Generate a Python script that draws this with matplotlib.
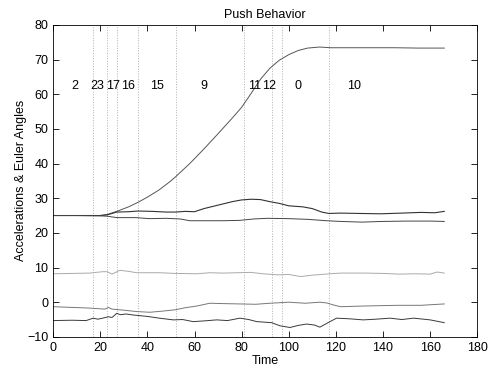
import matplotlib
matplotlib.use('Agg')
import matplotlib.pyplot as plt

plt.rcParams['font.family'] = ['Liberation Sans', 'DejaVu Sans']
plt.rcParams['font.size'] = 9

# series
a_x = [0, 10, 20, 23, 27, 32, 36, 40, 45, 50, 52, 58, 64, 70, 76, 80, 84, 88, 92, 96, 100, 104, 108, 113, 118, 125, 135, 145, 155, 166]
a_y = [25, 25, 25, 25.3, 26.2, 27.5, 28.8, 30.3, 32.4, 35, 36.2, 40.0, 44.2, 48.6, 53.1, 56.2, 60.2, 64.3, 67.5, 69.8, 71.4, 72.6, 73.3, 73.6, 73.4, 73.4, 73.4, 73.4, 73.3, 73.3]

b_x = [0, 10, 20, 23, 27, 32, 36, 42, 48, 52, 56, 60, 64, 70, 76, 80, 84, 88, 92, 96, 100, 106, 110, 114, 117, 122, 130, 139, 148, 156, 162, 166]
b_y = [25, 25, 25, 25.2, 26, 26.1, 26.3, 26.2, 26, 26, 26.2, 26.1, 27, 28, 29, 29.5, 29.7, 29.6, 29, 28.5, 27.8, 27.5, 27, 26, 25.6, 25.7, 25.6, 25.5, 25.7, 25.9, 25.8, 26.2]

c_x = [0, 10, 20, 23, 27, 35, 41, 48, 54, 58, 65, 72, 79, 85, 91, 100, 108, 116, 122, 131, 140, 150, 160, 166]
c_y = [25, 25, 24.9, 24.8, 24.4, 24.4, 24.1, 24.2, 24.0, 23.5, 23.5, 23.5, 23.6, 24.0, 24.2, 24.1, 23.9, 23.5, 23.3, 23.1, 23.3, 23.4, 23.4, 23.3]

d_x = [0, 8, 15.6, 21, 23, 25, 28.3, 32, 35.4, 45, 52, 61, 66.5, 72, 78, 84, 89, 95, 100, 105, 110, 117.5, 122, 132, 140, 147, 154, 160, 163, 166]
d_y = [8.2, 8.3, 8.4, 8.8, 8.8, 8.1, 9.2, 8.9, 8.5, 8.5, 8.3, 8.2, 8.5, 8.4, 8.5, 8.6, 8.2, 7.9, 8.0, 7.4, 7.8, 8.2, 8.4, 8.4, 8.3, 8.1, 8.2, 8.1, 8.7, 8.4]

e_x = [0, 8, 15.6, 22, 23.5, 25, 30, 35.4, 41, 46, 51.7, 56, 61, 66.5, 72, 79, 86, 92, 100, 107, 113, 116, 119, 122, 132, 146, 156, 166]
e_y = [-1.3, -1.5, -1.7, -2.0, -1.5, -2.0, -2.3, -2.7, -2.9, -2.6, -2.2, -1.6, -1.1, -0.3, -0.4, -0.5, -0.6, -0.3, 0.0, -0.3, 0.0, -0.2, -0.8, -1.3, -1.1, -0.9, -0.9, -0.5]

f_x = [0, 8, 14, 17, 19, 21, 23.4, 25, 27, 28.5, 31, 34, 40, 45, 51, 55, 59.4, 64, 69.4, 74, 79.3, 83, 86.4, 92.7, 96.3, 100.5, 104, 107.6, 111, 113.2, 117.5, 120.3, 126, 131.6, 137, 143, 148, 153, 160, 166]
f_y = [-5.3, -5.2, -5.3, -4.6, -4.9, -4.6, -4.2, -4.4, -3.2, -3.6, -3.4, -3.7, -4.1, -4.6, -5.1, -5.0, -5.6, -5.4, -5.1, -5.3, -4.6, -5.0, -5.6, -5.9, -6.8, -7.3, -6.7, -6.3, -6.6, -7.2, -5.6, -4.6, -4.8, -5.1, -4.9, -4.6, -5.0, -4.6, -5.1, -5.9]

# segment boundaries and behaviour labels
bounds = [17, 23, 27, 36, 52, 81, 93, 97, 117]
labels = ['2', '23', '17', '16', '15', '9', '11', '12', '0', '10']
label_x = [9.3, 18.6, 25.3, 32, 44, 64, 85.6, 91.6, 104, 127.6]
label_y = 62.5

fig = plt.figure(figsize=(4.92, 3.71), dpi=100)
ax = fig.add_axes([0.108, 0.092, 0.862, 0.841])

for b in bounds:
    ax.axvline(b, color='#b0b0b0', linestyle=':', linewidth=0.7)

ax.plot(a_x, a_y, color='#555555', linewidth=0.7)
ax.plot(b_x, b_y, color='#333333', linewidth=0.8)
ax.plot(c_x, c_y, color='#444444', linewidth=0.7)
ax.plot(d_x, d_y, color='#aaaaaa', linewidth=0.7)
ax.plot(e_x, e_y, color='#777777', linewidth=0.7)
ax.plot(f_x, f_y, color='#3a3a3a', linewidth=0.7)

for t, x in zip(labels, label_x):
    ax.text(x, label_y, t, ha='center', va='center', fontsize=9)

ax.set_xlim(0, 180)
ax.set_ylim(-10, 80)
ax.set_xticks(range(0, 181, 20))
ax.set_yticks(range(-10, 81, 10))
ax.tick_params(direction='in', top=True, right=True, length=4, width=0.6)
for s in ax.spines.values():
    s.set_linewidth(0.6)

ax.set_title('Push Behavior', fontsize=9, pad=5)
ax.set_xlabel('Time', fontsize=9, labelpad=1)
ax.set_ylabel('Accelerations & Euler Angles', fontsize=9, labelpad=0)

fig.savefig('out.png', dpi=100)
